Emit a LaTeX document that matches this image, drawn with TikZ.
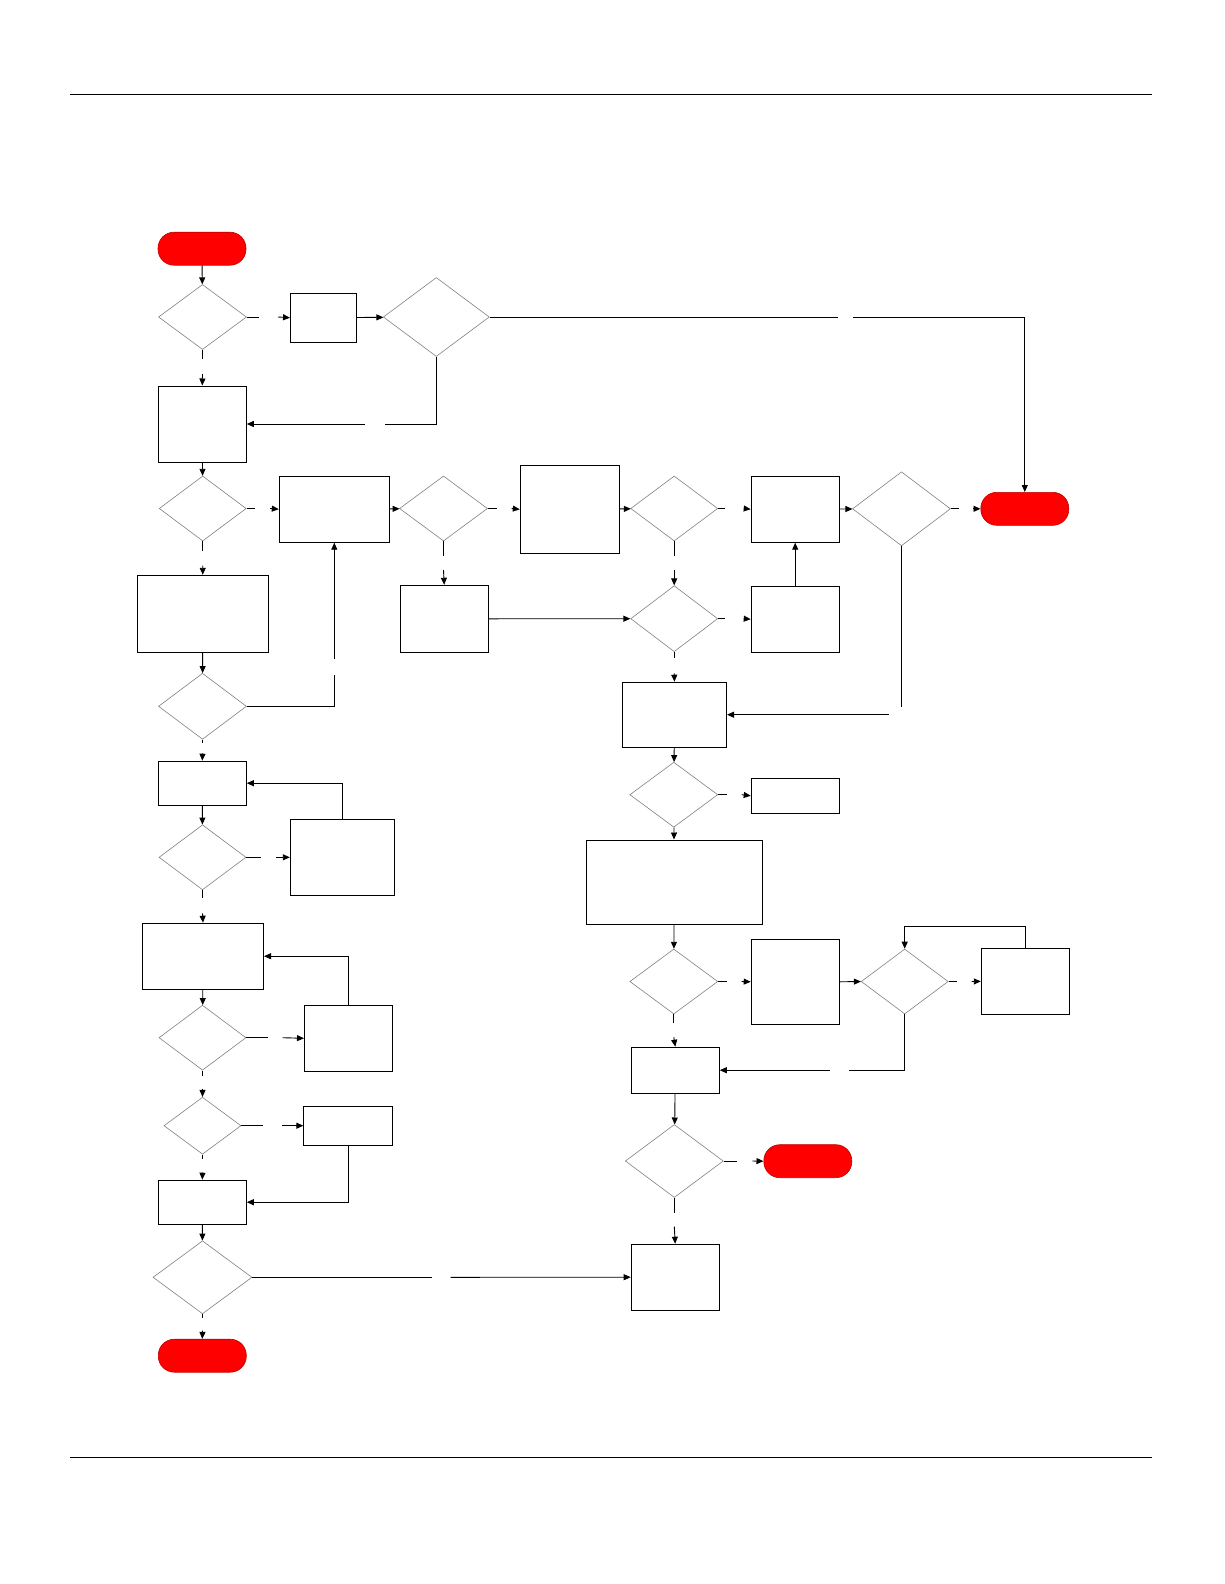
\documentclass[tikz,border=0pt]{standalone}
\usetikzlibrary{shapes.geometric,arrows.meta}
\begin{document}
\begin{tikzpicture}[x=1pt,y=-1pt,
  boxnode/.style={draw=black,line width=1pt,rectangle,inner sep=0pt,fill=white},
  decnode/.style={draw=black!50,line width=0.6pt,diamond,inner sep=0pt},
  termnode/.style={draw=red!75!black,line width=0.6pt,fill=red,rectangle,rounded corners=16pt,inner sep=0pt,minimum width=88pt,minimum height=33pt},
  conn/.style={line width=0.9pt,draw=black},
  arr/.style={conn,-{Triangle[length=7pt,width=6pt]}},
  rule/.style={line width=1pt,draw=black}]
\useasboundingbox (0,0) rectangle (1224,1584);
\draw[rule] (70,95) -- (1152,95);
\draw[rule] (70,1457) -- (1152,1457);
% terminals
\node[termnode] (t1) at (202,248.7) {};
\node[termnode] (t2) at (1024.8,508.8) {};
\node[termnode] (t3) at (202.3,1355.7) {};
\node[termnode] (t4) at (807.8,1161.2) {};
% decisions
\node[decnode,minimum width=88pt,minimum height=65pt] (d1) at (202.5,317) {};
\node[decnode,minimum width=106pt,minimum height=79pt] (d2) at (436.3,317) {};
\node[decnode,minimum width=87pt,minimum height=65pt] (d3) at (202.7,508.5) {};
\node[decnode,minimum width=88pt,minimum height=65pt] (d4) at (443.5,508.5) {};
\node[decnode,minimum width=87pt,minimum height=65pt] (d5) at (674.2,508.5) {};
\node[decnode,minimum width=98pt,minimum height=74pt] (d6) at (901.5,508.8) {};
\node[decnode,minimum width=87pt,minimum height=66pt] (d7) at (674.2,618.7) {};
\node[decnode,minimum width=88pt,minimum height=66pt] (d8) at (202.5,706.3) {};
\node[decnode,minimum width=87pt,minimum height=65pt] (d9) at (202.5,857.3) {};
\node[decnode,minimum width=87pt,minimum height=65pt] (d10) at (202.5,1037.7) {};
\node[decnode,minimum width=77pt,minimum height=57pt] (d11) at (202.5,1125.7) {};
\node[decnode,minimum width=99pt,minimum height=73pt] (d12) at (202.5,1277.3) {};
\node[decnode,minimum width=88pt,minimum height=65pt] (d13) at (673.8,794.7) {};
\node[decnode,minimum width=88pt,minimum height=65pt] (d14) at (673.8,981.5) {};
\node[decnode,minimum width=87pt,minimum height=65pt] (d15) at (904.7,981.5) {};
\node[decnode,minimum width=98pt,minimum height=73pt] (d16) at (674.3,1161) {};
% boxes
\node[boxnode,minimum width=66pt,minimum height=49pt] (bA) at (323.5,317.7) {};
\node[boxnode,minimum width=88pt,minimum height=76pt] (bB) at (202.3,424) {};
\node[boxnode,minimum width=110pt,minimum height=66pt] (bC) at (334.3,509.2) {};
\node[boxnode,minimum width=99pt,minimum height=88pt] (bH) at (569.8,509.3) {};
\node[boxnode,minimum width=88pt,minimum height=66pt] (bE) at (795.2,509.2) {};
\node[boxnode,minimum width=131pt,minimum height=77pt] (bI) at (202.8,613.8) {};
\node[boxnode,minimum width=88pt,minimum height=67pt] (bJ) at (444.2,618.8) {};
\node[boxnode,minimum width=88pt,minimum height=66pt] (bF) at (795.2,619.2) {};
\node[boxnode,minimum width=104pt,minimum height=65pt] (bG) at (674.5,714.7) {};
\node[boxnode,minimum width=88pt,minimum height=44pt] (bK) at (202.3,783.2) {};
\node[boxnode,minimum width=104pt,minimum height=76pt] (bL) at (342.3,857.3) {};
\node[boxnode,minimum width=88pt,minimum height=35pt] (bR) at (795.2,795.8) {};
\node[boxnode,minimum width=176pt,minimum height=84pt] (bS) at (674.2,882) {};
\node[boxnode,minimum width=121pt,minimum height=66pt] (bM) at (203,956.2) {};
\node[boxnode,minimum width=88pt,minimum height=85pt] (bT) at (795.2,981.8) {};
\node[boxnode,minimum width=88pt,minimum height=66pt] (bU) at (1025.3,981.3) {};
\node[boxnode,minimum width=88pt,minimum height=66pt] (bN) at (348.5,1038.3) {};
\node[boxnode,minimum width=88pt,minimum height=46pt] (bV) at (675.3,1070.2) {};
\node[boxnode,minimum width=89pt,minimum height=39pt] (bO) at (348.3,1125.7) {};
\node[boxnode,minimum width=88pt,minimum height=44pt] (bP) at (202.3,1202.2) {};
\node[boxnode,minimum width=88pt,minimum height=66pt] (bQ) at (675.2,1277.2) {};
% gap coordinates
\coordinate (g1a) at (259,317);   \coordinate (g1b) at (278,317);
\coordinate (g2a) at (838,317);   \coordinate (g2b) at (853,317);
\coordinate (g3a) at (202.5,359.3); \coordinate (g3b) at (202.5,374);
\coordinate (g4a) at (385,424);   \coordinate (g4b) at (365,424);
\coordinate (g5a) at (255,508.5); \coordinate (g5b) at (270,508.5);
\coordinate (g6a) at (496.7,508.5); \coordinate (g6b) at (511.7,508.5);
\coordinate (g7a) at (725,508.5); \coordinate (g7b) at (744,508.5);
\coordinate (g8a) at (959,508.8); \coordinate (g8b) at (973,508.8);
\coordinate (g9a) at (202.7,550.7); \coordinate (g9b) at (202.7,565.7);
\coordinate (g10a) at (334.3,675); \coordinate (g10b) at (334.3,659.3);
\coordinate (g11a) at (443.5,555.7); \coordinate (g11b) at (443.5,570);
\coordinate (g12a) at (674.2,555.7); \coordinate (g12b) at (674.2,570);
\coordinate (g13a) at (725,618.7); \coordinate (g13b) at (744,618.7);
\coordinate (g14a) at (901.5,706.7); \coordinate (g14b) at (889,714.7);
\coordinate (g15a) at (674.2,658.3); \coordinate (g15b) at (674.2,673.3);
\coordinate (g16a) at (202.5,742.7); \coordinate (g16b) at (202.5,753.5);
\coordinate (g17a) at (260.7,857.3); \coordinate (g17b) at (276,857.3);
\coordinate (g18a) at (202.5,898.3); \coordinate (g18b) at (202.5,913.3);
\coordinate (g19a) at (267.7,1037.7); \coordinate (g19b) at (282.7,1037.7);
\coordinate (g20a) at (202.5,1075.7); \coordinate (g20b) at (202.5,1088.5);
\coordinate (g21a) at (262.7,1125.7); \coordinate (g21b) at (282,1125.7);
\coordinate (g22a) at (202.5,1159.3); \coordinate (g22b) at (202.5,1172.5);
\coordinate (g23a) at (431.7,1277.3); \coordinate (g23b) at (450.7,1277.3);
\coordinate (g24a) at (202.5,1318.3); \coordinate (g24b) at (202.5,1330.5);
\coordinate (g25a) at (726.7,794.7); \coordinate (g25b) at (741.7,794.7);
\coordinate (g26a) at (726.7,981.5); \coordinate (g26b) at (741.7,981.5);
\coordinate (g27a) at (956.7,981.5); \coordinate (g27b) at (971.7,981.5);
\coordinate (g28) at (1025.3,926.3);
\coordinate (g29a) at (848.7,1070.2); \coordinate (g29b) at (830,1070.2);
\coordinate (g30a) at (673.8,1022.7); \coordinate (g30b) at (673.8,1037.3);
\coordinate (g31a) at (736.7,1161); \coordinate (g31b) at (752.3,1161);
\coordinate (g32a) at (674.3,1212.7); \coordinate (g32b) at (674.3,1226.7);
% connectors
\draw[arr] (t1) -- (d1);
\draw[conn] (d1.east) -- (g1a); \draw[arr] (g1b) -- (bA.west);
\draw[arr] (bA) -- (d2);
\draw[conn] (d2.east) -- (g2a); \draw[arr] (g2b) -| (t2.north);
\draw[conn] (d1.south) -- (g3a); \draw[arr] (g3b) -- (bB.north);
\draw[conn] (d2.south) |- (g4a); \draw[arr] (g4b) -- (bB.east);
\draw[arr] (bB) -- (d3);
\draw[conn] (d3.east) -- (g5a); \draw[arr] (g5b) -- (bC.west);
\draw[arr] (bC) -- (d4);
\draw[conn] (d4.east) -- (g6a); \draw[arr] (g6b) -- (bH.west);
\draw[arr] (bH) -- (d5);
\draw[conn] (d5.east) -- (g7a); \draw[arr] (g7b) -- (bE.west);
\draw[arr] (bE) -- (d6);
\draw[conn] (d6.east) -- (g8a); \draw[arr] (g8b) -- (t2.west);
\draw[conn] (d3.south) -- (g9a); \draw[arr] (g9b) -- (bI.north);
\draw[arr] (bI) -- (d8);
\draw[conn] (d8.east) -| (g10a); \draw[arr] (g10b) -- (bC.south);
\draw[conn] (d4.south) -- (g11a); \draw[arr] (g11b) -- (bJ.north);
\draw[arr] (bJ.east) -- (d7.west);
\draw[conn] (d5.south) -- (g12a); \draw[arr] (g12b) -- (d7.north);
\draw[conn] (d7.east) -- (g13a); \draw[arr] (g13b) -- (bF.west);
\draw[arr] (bF) -- (bE);
\draw[conn] (d6.south) -- (g14a); \draw[arr] (g14b) -- (bG.east);
\draw[conn] (d7.south) -- (g15a); \draw[arr] (g15b) -- (bG.north);
\draw[conn] (d8.south) -- (g16a); \draw[arr] (g16b) -- (bK.north);
\draw[arr] (bK) -- (d9);
\draw[conn] (d9.east) -- (g17a); \draw[arr] (g17b) -- (bL.west);
\draw[arr] (bL.north) |- (bK.east);
\draw[conn] (d9.south) -- (g18a); \draw[arr] (g18b) -- (bM.north);
\draw[arr] (bM) -- (d10);
\draw[conn] (d10.east) -- (g19a); \draw[arr] (g19b) -- (bN.west);
\draw[arr] (bN.north) |- (bM.east);
\draw[conn] (d10.south) -- (g20a); \draw[arr] (g20b) -- (d11.north);
\draw[conn] (d11.east) -- (g21a); \draw[arr] (g21b) -- (bO.west);
\draw[conn] (d11.south) -- (g22a); \draw[arr] (g22b) -- (bP.north);
\draw[arr] (bO.south) |- (bP.east);
\draw[arr] (bP) -- (d12);
\draw[conn] (d12.east) -- (g23a); \draw[arr] (g23b) -- (bQ.west);
\draw[conn] (d12.south) -- (g24a); \draw[arr] (g24b) -- (t3.north);
\draw[arr] (bG) -- (d13);
\draw[conn] (d13.east) -- (g25a); \draw[arr] (g25b) -- (bR.west);
\draw[arr] (d13) -- (bS);
\draw[arr] (bS) -- (d14);
\draw[conn] (d14.east) -- (g26a); \draw[arr] (g26b) -- (bT.west);
\draw[arr] (bT.east) -- (d15.west);
\draw[conn] (d15.east) -- (g27a); \draw[arr] (g27b) -- (bU.west);
\draw[arr] (bU.north) -- (g28) -| (d15.north);
\draw[conn] (d15.south) |- (g29a); \draw[arr] (g29b) -- (bV.east);
\draw[conn] (d14.south) -- (g30a); \draw[arr] (g30b) -- (bV.north);
\draw[arr] (bV) -- (d16);
\draw[conn] (d16.east) -- (g31a); \draw[arr] (g31b) -- (t4.west);
\draw[conn] (d16.south) -- (g32a); \draw[arr] (g32b) -- (bQ.north);
\end{tikzpicture}
\end{document}
